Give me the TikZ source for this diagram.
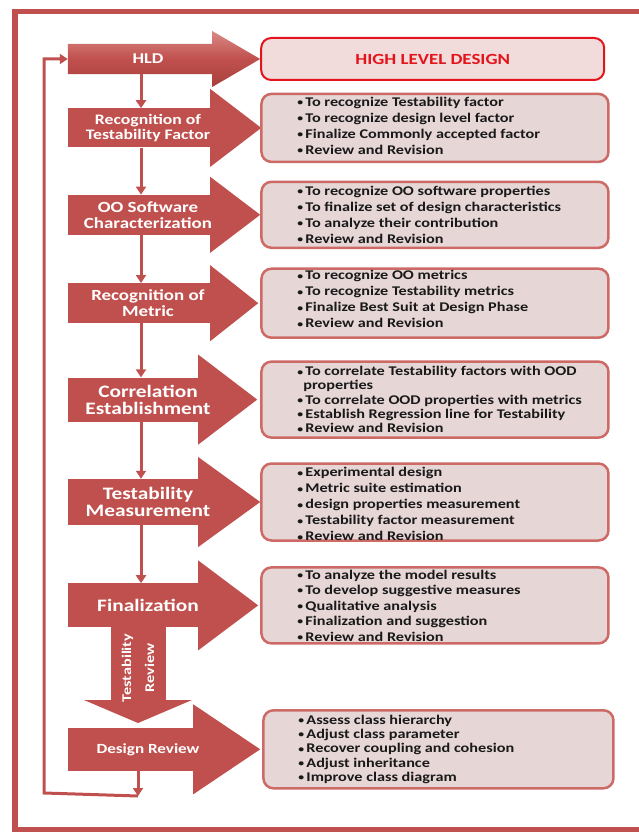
\documentclass[tikz,border=0pt]{standalone}
\usepackage{fontspec}
\setmainfont{Carlito}[FakeStretch=1.22]
\usetikzlibrary{positioning,calc,arrows.meta,backgrounds}

\definecolor{arrowred}{HTML}{C0504D}
\definecolor{boxfill}{HTML}{E6D6D6}
\definecolor{boxline}{HTML}{CD6A66}
\definecolor{hlfill}{HTML}{F2DCDB}
\definecolor{hlred}{HTML}{E3141B}
\definecolor{hldlight}{HTML}{D98A86}
\definecolor{hlddark}{HTML}{A8403D}

\newcommand{\bul}{\raisebox{0.6pt}{\scalebox{0.72}{\textbullet}}\,}
% head of a stage arrow: node, base offset, half height, tip offset
\newcommand{\stagehead}[4]{%
  \fill[arrowred] ($(#1.east)+(#2,-#3)$) -- ($(#1.east)+(#4,0)$) -- ($(#1.east)+(#2,#3)$) -- cycle;}

\begin{document}
\begin{tikzpicture}[x=1pt, y=-1pt,
  stage/.style={fill=arrowred, text=white, minimum width=160pt, inner sep=0pt, align=center},
  infobox/.style={draw=boxline, fill=boxfill, line width=2.5pt, rounded corners=10pt, minimum width=347pt},
  infotext/.style={anchor=west, align=left, inner sep=0pt, text=black!90, font=\bfseries\fontsize{13.3}{16}\selectfont},
  link/.style={draw=arrowred, line width=3pt, -{Triangle[width=10pt,length=8pt]}},
  outerframe/.style={draw=arrowred, line width=5.5pt}]

\useasboundingbox (0,0) rectangle (639,832);
\draw[outerframe] (15,11.5) rectangle (700,830);

% stages
\node[stage, fill=none, minimum height=30pt, font=\bfseries\fontsize{15}{15}\selectfont] (hld) at (148,59) {HLD};
\node[stage, minimum height=39pt, below=34pt of hld, font=\bfseries\fontsize{14.5}{15}\selectfont] (rec) {Recognition of\\Testability Factor};
\node[stage, minimum height=40pt, below=47pt of rec, font=\bfseries\fontsize{15.5}{16}\selectfont] (oo) {OO Software\\Characterization};
\node[stage, minimum height=40pt, below=48pt of oo, font=\bfseries\fontsize{15.5}{16}\selectfont] (met) {Recognition of\\Metric};
\node[stage, minimum height=44pt, below=54pt of met, font=\bfseries\fontsize{17.5}{17}\selectfont] (cor) {Correlation\\Establishment};
\node[stage, minimum height=46pt, below=57pt of cor, font=\bfseries\fontsize{17.5}{16.5}\selectfont] (tm) {Testability\\Measurement};
\node[stage, minimum height=44pt, below=58pt of tm, font=\bfseries\fontsize{17.5}{17}\selectfont] (fin) {Finalization};
\node[stage, minimum height=43pt, below=100pt of fin, font=\bfseries\fontsize{14}{16}\selectfont] (dr) {Design Review};
\node[stage, rotate=90, minimum width=86pt, minimum height=55pt, font=\bfseries\fontsize{13.3}{23}\selectfont] (rev) at (138,668) {Testability\\Review};

\begin{scope}[on background layer]
  \shade[top color=hldlight, bottom color=hlddark, middle color=arrowred]
    (hld.north west) -- ($(hld.north east)+(-16,0)$) -- ($(hld.east)+(-16,-28)$) -- ($(hld.east)+(32,0)$)
    -- ($(hld.east)+(-16,28)$) -- ($(hld.south east)+(-16,0)$) -- (hld.south west) -- cycle;
  \stagehead{rec}{-18}{39}{33}
  \stagehead{oo}{-18}{38}{32}
  \stagehead{met}{-18}{38}{30}
  \stagehead{cor}{-30}{45}{29}
  \stagehead{tm}{-30}{45}{32}
  \stagehead{fin}{-30}{45}{30}
  \stagehead{dr}{-35}{45}{32}
  \fill[arrowred] ($(rev.center)+(-54,32)$) -- ($(rev.center)+(0,55)$) -- ($(rev.center)+(54,32)$) -- cycle;
\end{scope}

% boxes
\node[infobox, draw=hlred, fill=hlfill, line width=2pt, minimum width=343pt, minimum height=42pt, right=32pt of hld,
  text=hlred, font=\bfseries\fontsize{15.5}{18}\selectfont] (hlbox) {HIGH LEVEL DESIGN};
\node[infobox, minimum height=68pt, right=32pt of rec] (b1) {};
\node[infobox, minimum height=66pt, right=32pt of oo] (b2) {};
\node[infobox, minimum height=69pt, right=32pt of met] (b3) {};
\node[infobox, minimum height=76pt, right=32pt of cor] (b4) {};
\node[infobox, minimum height=77pt, right=32pt of tm] (b5) {};
\node[infobox, minimum height=76pt, right=32pt of fin] (b6) {};
\node[infobox, minimum width=350pt, minimum height=78pt, right=34pt of dr] (b7) {};

\node[infotext] (t1) at ([xshift=37pt,yshift=2pt]b1.west) {\bul To recognize Testability factor\\\bul To recognize design level factor\\\bul Finalize Commonly accepted factor\\\bul Review and Revision};
\node[infotext] (t2) at ([xshift=37pt]b2.west) {\bul To recognize OO software properties\\\bul To finalize set of design characteristics\\\bul To analyze their contribution\\\bul Review and Revision};
\node[infotext] (t3) at ([xshift=37pt,yshift=4pt]b3.west) {\bul To recognize OO metrics\\\bul To recognize Testability metrics\\\bul Finalize Best Suit at Design Phase\\\bul Review and Revision};
\node[infotext, font=\bfseries\fontsize{13.3}{14.3}\selectfont] (t4) at ([xshift=37pt]b4.west) {\bul To correlate Testability factors with OOD\\\hspace*{6pt}properties\\\bul To correlate OOD properties with metrics\\\bul Establish Regression line for Testability\\\bul Review and Revision};
\node[infotext] (t5) at ([xshift=37pt,yshift=-2pt]b5.west) {\bul Experimental design\\\bul Metric suite estimation\\\bul design properties measurement\\\bul Testability factor measurement\\\bul Review and Revision};
\node[infotext, font=\bfseries\fontsize{13.3}{15.5}\selectfont] (t6) at ([xshift=37pt]b6.west) {\bul To analyze the model results\\\bul To develop suggestive measures\\\bul Qualitative analysis\\\bul Finalization and suggestion\\\bul Review and Revision};
\node[infotext, font=\bfseries\fontsize{13.3}{14.3}\selectfont] (t7) at ([xshift=36pt]b7.west) {\bul Assess class hierarchy\\\bul Adjust class parameter\\\bul Recover coupling and cohesion\\\bul Adjust inheritance\\\bul Improve class diagram};

% connectors
\draw[link] ([xshift=-7pt]hld.south) -- ([xshift=-7pt]rec.north);
\draw[link] ([xshift=-7pt]rec.south) -- ([xshift=-7pt]oo.north);
\draw[link] ([xshift=-7pt]oo.south) -- ([xshift=-7pt]met.north);
\draw[link] ([xshift=-7pt]met.south) -- ([xshift=-7pt]cor.north);
\draw[link] ([xshift=-7pt]cor.south) -- ([xshift=-7pt]tm.north);
\draw[link] ([xshift=-7pt]tm.south) -- ([xshift=-7pt]fin.north);

% feedback loop
\coordinate (turn) at ([xshift=-10pt,yshift=-25pt]dr.south);
\coordinate (back) at (44,793);
\draw[link] ([xshift=-10pt]dr.south) -- (turn);
\draw[link] (turn) -- (back) |- (hld);

\end{tikzpicture}
\end{document}
